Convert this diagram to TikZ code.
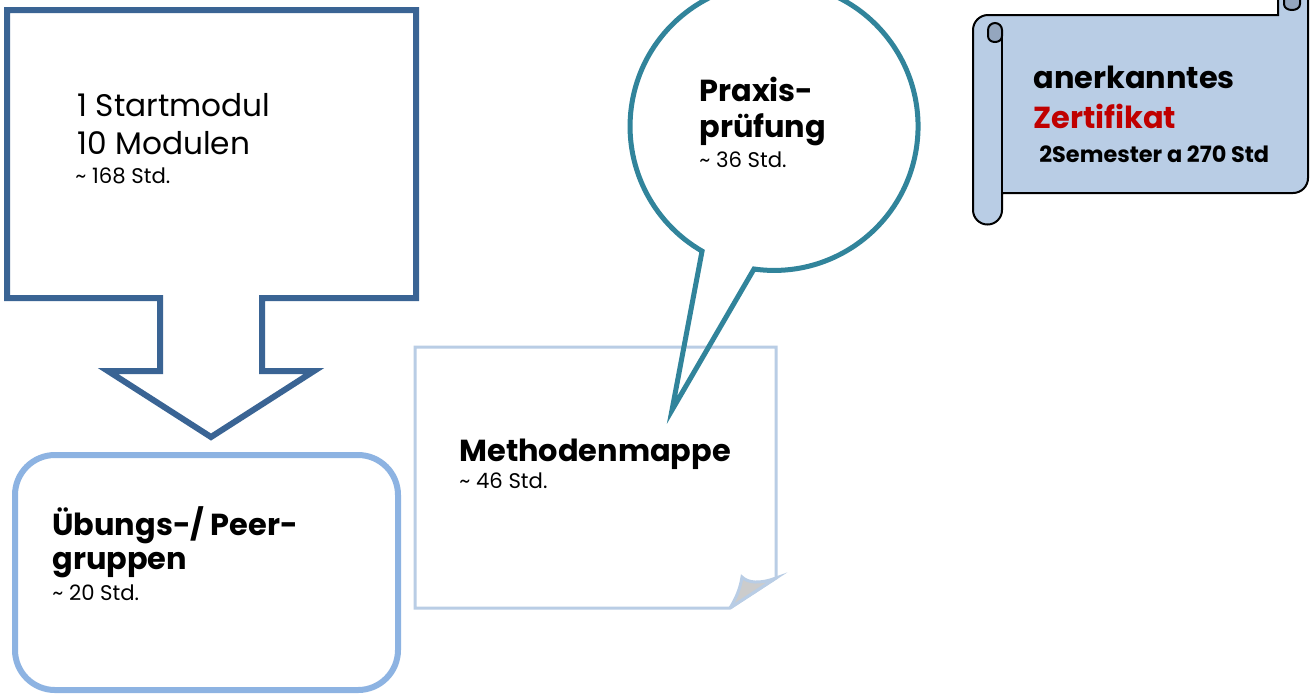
\documentclass[tikz,border=0pt]{standalone}
\usepackage{fontspec}
\setmainfont{Poppins}
\definecolor{arrowblue}{HTML}{3A6494}
\definecolor{roundblue}{HTML}{8DB3E2}
\definecolor{noteblue}{HTML}{B9CDE5}
\definecolor{bubteal}{HTML}{31849B}
\definecolor{curldark}{HTML}{94A6BE}
\definecolor{zertred}{HTML}{C00000}
\begin{document}
\begin{tikzpicture}[x=0.5pt,y=-0.5pt]

\tikzset{bigtxt/.style = {anchor=base west,inner sep=0pt,font=\fontsize{15.6}{19}\selectfont}}
\tikzset{headtxt/.style = {anchor=base west,inner sep=0pt,font=\fontsize{15.2}{19}\selectfont\bfseries}}
\tikzset{hrstxt/.style = {anchor=base west,inner sep=0pt,font=\fontsize{10.6}{12}\selectfont}}
\tikzset{semtxt/.style = {anchor=base west,inner sep=0pt,font=\fontsize{11.2}{12}\selectfont\bfseries}}

\clip (0,0) rectangle (1310,693);
\fill[white] (0,0) rectangle (1310,693);

% down arrow callout
\draw[arrowblue, line width=3pt, line join=miter]
  (7,10) -- (416,10) -- (416,298) -- (262,298) -- (262,371) -- (314,371)
  -- (211,437) -- (108,371) -- (160,371) -- (160,298) -- (7,298) -- cycle;

% rounded box
\draw[roundblue, line width=3pt, rounded corners=20pt] (15,455) rectangle (398,690);

% note with folded corner
\draw[noteblue, line width=1.5pt] (415,347) -- (776,347) -- (776,578) -- (730,608) -- (415,608) -- cycle;
\filldraw[fill=black!20, draw=noteblue, line width=1.5pt]
  (730,608) -- (776,578) .. controls (760,584) and (748,583) .. (742,577)
  .. controls (740,590) and (735,600) .. (730,608);

% speech bubble
\draw[bubteal, line width=2.5pt, line join=miter]
  (754,269) arc[start angle=98, end angle=-240, radius=144] -- (672,410) -- cycle;

% scroll
\filldraw[fill=noteblue, draw=black, line width=1pt]
  (1002,193) -- (1293,193) arc[start angle=90, end angle=0, radius=15]
  -- (1308,-10) -- (1278,-10) -- (1278,15) -- (988,15)
  arc[start angle=270, end angle=180, radius=15] -- (973,210)
  arc[start angle=180, end angle=0, radius=14.5] -- cycle;
\draw[black, line width=1pt] (1002,193) -- (1002,36);
\filldraw[fill=curldark, draw=black, line width=1pt]
  (988,30) arc[start angle=180, end angle=360, radius=7] -- (1002,36)
  .. controls (1002,44) and (988,44) .. (988,36) -- cycle;
\filldraw[fill=curldark, draw=black, line width=1pt]
  (1284,-2) -- (1300,-2) -- (1300,4) .. controls (1300,12) and (1284,12) .. (1284,4) -- cycle;

% texts
\node[bigtxt] (start1) at (77,116) {1 Startmodul};
\node[bigtxt] (start2) at (77,154) {10 Modulen};
\node[hrstxt] (starthrs) at (75,183) {\textasciitilde{} 168 Std.};

\node[headtxt] (praxis1) at (699,101) {Praxis-};
\node[headtxt] (praxis2) at (699,137) {prüfung};
\node[hrstxt] (praxishrs) at (699,167) {\textasciitilde{} 36 Std.};

\node[headtxt] (mappe) at (459,461) {Methodenmappe};
\node[hrstxt] (mappehrs) at (459,488) {\textasciitilde{} 46 Std.};

\node[headtxt] (uebung1) at (52,535) {Übungs-/ Peer-};
\node[headtxt] (uebung2) at (52,569) {gruppen};
\node[hrstxt] (uebunghrs) at (52,600) {\textasciitilde{} 20 Std.};

\node[headtxt] (zert1) at (1033,88) {anerkanntes};
\node[headtxt, text=zertred] (zert2) at (1033,128) {Zertifikat};
\node[semtxt] (zert3) at (1039,162) {2Semester a 270 Std};

\end{tikzpicture}
\end{document}
